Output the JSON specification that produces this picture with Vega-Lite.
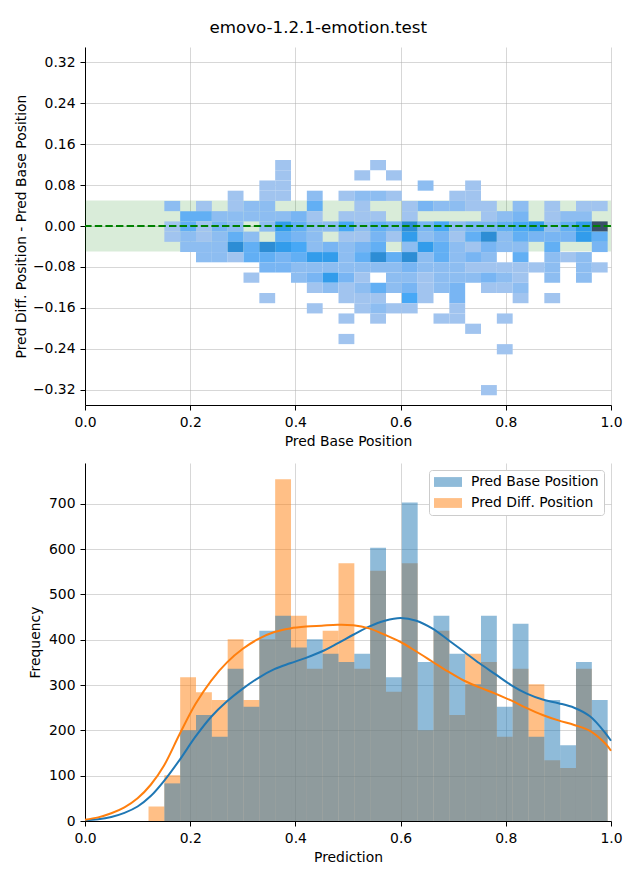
{
  "$schema": "https://vega.github.io/schema/vega-lite/v6.json",
  "padding": {"left": 14, "top": 20, "right": 10, "bottom": 5},
  "bounds": "flush",
  "spacing": 58,
  "title": {"text": "emovo-1.2.1-emotion.test", "fontSize": 16.7, "fontWeight": "normal", "font": "DejaVu Sans", "color": "#000000", "anchor": "middle", "offset": 10},
  "config": {
    "font": "DejaVu Sans",
    "view": {"stroke": null},
    "axis": {
      "labelFont": "DejaVu Sans", "titleFont": "DejaVu Sans",
      "labelFontSize": 13.9, "titleFontSize": 13.9, "titleFontWeight": "normal",
      "labelColor": "#000000", "titleColor": "#000000",
      "domainColor": "#000000", "tickColor": "#000000", "domainWidth": 1, "tickWidth": 1,
      "tickSize": 5, "labelPadding": 5, "titlePadding": 5.5, "labelFlush": false,
      "gridColor": "#b0b0b0", "gridOpacity": 0.5, "gridWidth": 1, "zindex": 1
    },
    "legend": {
      "labelFont": "DejaVu Sans", "labelFontSize": 13.9, "labelColor": "#000000"
    }
  },
  "datasets": {
    "heat": [
      {"x":0.165,"y":0.04,"n":2},{"x":0.165,"y":0,"n":1},{"x":0.165,"y":-0.02,"n":1},
      {"x":0.195,"y":0.02,"n":4},{"x":0.195,"y":0,"n":4},{"x":0.195,"y":-0.02,"n":2},{"x":0.195,"y":-0.04,"n":2},
      {"x":0.225,"y":0.04,"n":1},{"x":0.225,"y":0.02,"n":4},{"x":0.225,"y":0,"n":1},{"x":0.225,"y":-0.02,"n":1},{"x":0.225,"y":-0.04,"n":2},{"x":0.225,"y":-0.06,"n":2},
      {"x":0.255,"y":0.02,"n":2},{"x":0.255,"y":0,"n":3},{"x":0.255,"y":-0.02,"n":2},{"x":0.255,"y":-0.04,"n":2},{"x":0.255,"y":-0.06,"n":2},
      {"x":0.285,"y":0.06,"n":1},{"x":0.285,"y":0.04,"n":1},{"x":0.285,"y":0.02,"n":2},{"x":0.285,"y":0,"n":2},{"x":0.285,"y":-0.02,"n":4},{"x":0.285,"y":-0.04,"n":7},{"x":0.285,"y":-0.06,"n":1},
      {"x":0.316,"y":0.04,"n":2},{"x":0.316,"y":0.02,"n":2},{"x":0.316,"y":-0.02,"n":2},{"x":0.316,"y":-0.04,"n":4},{"x":0.316,"y":-0.06,"n":4},{"x":0.316,"y":-0.10,"n":1},
      {"x":0.346,"y":0.08,"n":1},{"x":0.346,"y":0.06,"n":1},{"x":0.346,"y":0.04,"n":2},{"x":0.346,"y":0.02,"n":2},{"x":0.346,"y":0,"n":2},{"x":0.346,"y":-0.04,"n":7},{"x":0.346,"y":-0.06,"n":4},{"x":0.346,"y":-0.08,"n":3},{"x":0.346,"y":-0.14,"n":1},
      {"x":0.376,"y":0.12,"n":1},{"x":0.376,"y":0.10,"n":1},{"x":0.376,"y":0.08,"n":1},{"x":0.376,"y":0.06,"n":1},{"x":0.376,"y":0.02,"n":2},{"x":0.376,"y":0,"n":6},{"x":0.376,"y":-0.02,"n":4},{"x":0.376,"y":-0.04,"n":6},{"x":0.376,"y":-0.06,"n":3},{"x":0.376,"y":-0.08,"n":3},
      {"x":0.406,"y":0.02,"n":3},{"x":0.406,"y":0,"n":4},{"x":0.406,"y":-0.02,"n":3},{"x":0.406,"y":-0.04,"n":5},{"x":0.406,"y":-0.06,"n":4},{"x":0.406,"y":-0.08,"n":2},{"x":0.406,"y":-0.10,"n":2},
      {"x":0.436,"y":0.06,"n":2},{"x":0.436,"y":0.04,"n":4},{"x":0.436,"y":0.02,"n":1},{"x":0.436,"y":0,"n":2},{"x":0.436,"y":-0.02,"n":2},{"x":0.436,"y":-0.04,"n":2},{"x":0.436,"y":-0.06,"n":6},{"x":0.436,"y":-0.08,"n":2},{"x":0.436,"y":-0.10,"n":3},{"x":0.436,"y":-0.12,"n":1},{"x":0.436,"y":-0.16,"n":1},
      {"x":0.466,"y":0,"n":2},{"x":0.466,"y":-0.04,"n":3},{"x":0.466,"y":-0.06,"n":6},{"x":0.466,"y":-0.08,"n":2},{"x":0.466,"y":-0.10,"n":6},{"x":0.466,"y":-0.12,"n":2},
      {"x":0.496,"y":0.06,"n":1},{"x":0.496,"y":0.02,"n":1},{"x":0.496,"y":0,"n":5},{"x":0.496,"y":-0.02,"n":1},{"x":0.496,"y":-0.04,"n":2},{"x":0.496,"y":-0.06,"n":2},{"x":0.496,"y":-0.08,"n":2},{"x":0.496,"y":-0.10,"n":3},{"x":0.496,"y":-0.12,"n":1},{"x":0.496,"y":-0.14,"n":1},{"x":0.496,"y":-0.18,"n":1},{"x":0.496,"y":-0.22,"n":1},
      {"x":0.526,"y":0.10,"n":1},{"x":0.526,"y":0.06,"n":2},{"x":0.526,"y":0.04,"n":1},{"x":0.526,"y":0.02,"n":1},{"x":0.526,"y":0,"n":2},{"x":0.526,"y":-0.02,"n":1},{"x":0.526,"y":-0.04,"n":3},{"x":0.526,"y":-0.06,"n":4},{"x":0.526,"y":-0.08,"n":2},{"x":0.526,"y":-0.10,"n":1},{"x":0.526,"y":-0.12,"n":2},{"x":0.526,"y":-0.14,"n":1},{"x":0.526,"y":-0.16,"n":1},
      {"x":0.556,"y":0.12,"n":1},{"x":0.556,"y":0.06,"n":2},{"x":0.556,"y":0.02,"n":1},{"x":0.556,"y":0,"n":4},{"x":0.556,"y":-0.02,"n":3},{"x":0.556,"y":-0.04,"n":4},{"x":0.556,"y":-0.06,"n":7},{"x":0.556,"y":-0.08,"n":2},{"x":0.556,"y":-0.12,"n":4},{"x":0.556,"y":-0.14,"n":1},{"x":0.556,"y":-0.16,"n":2},{"x":0.556,"y":-0.18,"n":1},
      {"x":0.586,"y":0.10,"n":1},{"x":0.586,"y":0.06,"n":1},{"x":0.586,"y":0,"n":3},{"x":0.586,"y":-0.02,"n":1},{"x":0.586,"y":-0.06,"n":4},{"x":0.586,"y":-0.08,"n":2},{"x":0.586,"y":-0.10,"n":2},{"x":0.586,"y":-0.12,"n":2},{"x":0.586,"y":-0.16,"n":1},
      {"x":0.617,"y":0.04,"n":1},{"x":0.617,"y":0.02,"n":1},{"x":0.617,"y":0,"n":7},{"x":0.617,"y":-0.02,"n":6},{"x":0.617,"y":-0.04,"n":2},{"x":0.617,"y":-0.06,"n":7},{"x":0.617,"y":-0.08,"n":3},{"x":0.617,"y":-0.10,"n":2},{"x":0.617,"y":-0.12,"n":3},{"x":0.617,"y":-0.14,"n":5},{"x":0.617,"y":-0.16,"n":1},
      {"x":0.647,"y":0.08,"n":2},{"x":0.647,"y":0.04,"n":3},{"x":0.647,"y":0,"n":3},{"x":0.647,"y":-0.02,"n":2},{"x":0.647,"y":-0.04,"n":6},{"x":0.647,"y":-0.06,"n":2},{"x":0.647,"y":-0.08,"n":2},{"x":0.647,"y":-0.10,"n":1},{"x":0.647,"y":-0.12,"n":1},{"x":0.647,"y":-0.14,"n":1},
      {"x":0.677,"y":0.04,"n":2},{"x":0.677,"y":0,"n":5},{"x":0.677,"y":-0.02,"n":3},{"x":0.677,"y":-0.04,"n":4},{"x":0.677,"y":-0.06,"n":4},{"x":0.677,"y":-0.08,"n":2},{"x":0.677,"y":-0.10,"n":2},{"x":0.677,"y":-0.12,"n":2},{"x":0.677,"y":-0.18,"n":1},
      {"x":0.707,"y":0.06,"n":1},{"x":0.707,"y":0.04,"n":2},{"x":0.707,"y":0,"n":2},{"x":0.707,"y":-0.02,"n":1},{"x":0.707,"y":-0.04,"n":2},{"x":0.707,"y":-0.06,"n":2},{"x":0.707,"y":-0.08,"n":2},{"x":0.707,"y":-0.10,"n":2},{"x":0.707,"y":-0.12,"n":3},{"x":0.707,"y":-0.14,"n":3},{"x":0.707,"y":-0.16,"n":1},{"x":0.707,"y":-0.18,"n":1},
      {"x":0.737,"y":0.08,"n":1},{"x":0.737,"y":0.06,"n":1},{"x":0.737,"y":0.04,"n":1},{"x":0.737,"y":0,"n":3},{"x":0.737,"y":-0.02,"n":4},{"x":0.737,"y":-0.04,"n":1},{"x":0.737,"y":-0.06,"n":3},{"x":0.737,"y":-0.08,"n":1},{"x":0.737,"y":-0.10,"n":2},{"x":0.737,"y":-0.20,"n":1},
      {"x":0.767,"y":0.04,"n":1},{"x":0.767,"y":0.02,"n":1},{"x":0.767,"y":0,"n":3},{"x":0.767,"y":-0.02,"n":7},{"x":0.767,"y":-0.04,"n":3},{"x":0.767,"y":-0.06,"n":2},{"x":0.767,"y":-0.08,"n":1},{"x":0.767,"y":-0.10,"n":3},{"x":0.767,"y":-0.12,"n":1},{"x":0.767,"y":-0.32,"n":1},
      {"x":0.797,"y":0.02,"n":2},{"x":0.797,"y":0,"n":4},{"x":0.797,"y":-0.02,"n":2},{"x":0.797,"y":-0.04,"n":2},{"x":0.797,"y":-0.08,"n":1},{"x":0.797,"y":-0.10,"n":2},{"x":0.797,"y":-0.12,"n":1},{"x":0.797,"y":-0.18,"n":1},{"x":0.797,"y":-0.24,"n":1},
      {"x":0.827,"y":0.04,"n":2},{"x":0.827,"y":0.02,"n":3},{"x":0.827,"y":0,"n":5},{"x":0.827,"y":-0.02,"n":4},{"x":0.827,"y":-0.04,"n":2},{"x":0.827,"y":-0.06,"n":4},{"x":0.827,"y":-0.08,"n":1},{"x":0.827,"y":-0.10,"n":1},{"x":0.827,"y":-0.12,"n":2},{"x":0.827,"y":-0.14,"n":1},
      {"x":0.857,"y":0,"n":6},{"x":0.857,"y":-0.02,"n":3},{"x":0.857,"y":-0.08,"n":1},
      {"x":0.887,"y":0.04,"n":1},{"x":0.887,"y":0.02,"n":1},{"x":0.887,"y":0,"n":2},{"x":0.887,"y":-0.02,"n":3},{"x":0.887,"y":-0.04,"n":4},{"x":0.887,"y":-0.06,"n":2},{"x":0.887,"y":-0.08,"n":2},{"x":0.887,"y":-0.10,"n":2},{"x":0.887,"y":-0.14,"n":1},
      {"x":0.918,"y":0.02,"n":2},{"x":0.918,"y":0,"n":4},{"x":0.918,"y":-0.02,"n":3},{"x":0.918,"y":-0.06,"n":1},
      {"x":0.948,"y":0.04,"n":1},{"x":0.948,"y":0.02,"n":2},{"x":0.948,"y":0,"n":6},{"x":0.948,"y":-0.02,"n":6},{"x":0.948,"y":-0.06,"n":2},{"x":0.948,"y":-0.08,"n":2},{"x":0.948,"y":-0.10,"n":2},
      {"x":0.978,"y":0.04,"n":1},{"x":0.978,"y":0,"n":12},{"x":0.978,"y":-0.02,"n":4},{"x":0.978,"y":-0.04,"n":3},{"x":0.978,"y":-0.08,"n":1}
    ],
    "hist": [
      {"x":0.135,"s":"Pred Diff. Position","n":32},
      {"x":0.165,"s":"Pred Diff. Position","n":101},{"x":0.165,"s":"Pred Base Position","n":83},
      {"x":0.195,"s":"Pred Diff. Position","n":317},{"x":0.195,"s":"Pred Base Position","n":200},
      {"x":0.225,"s":"Pred Diff. Position","n":284},{"x":0.225,"s":"Pred Base Position","n":234},
      {"x":0.255,"s":"Pred Diff. Position","n":267},{"x":0.255,"s":"Pred Base Position","n":186},
      {"x":0.285,"s":"Pred Diff. Position","n":401},{"x":0.285,"s":"Pred Base Position","n":336},
      {"x":0.316,"s":"Pred Diff. Position","n":267},{"x":0.316,"s":"Pred Base Position","n":252},
      {"x":0.346,"s":"Pred Diff. Position","n":401},{"x":0.346,"s":"Pred Base Position","n":420},
      {"x":0.376,"s":"Pred Diff. Position","n":754},{"x":0.376,"s":"Pred Base Position","n":453},
      {"x":0.406,"s":"Pred Diff. Position","n":453},{"x":0.406,"s":"Pred Base Position","n":383},
      {"x":0.436,"s":"Pred Diff. Position","n":336},{"x":0.436,"s":"Pred Base Position","n":401},
      {"x":0.466,"s":"Pred Diff. Position","n":420},{"x":0.466,"s":"Pred Base Position","n":369},
      {"x":0.496,"s":"Pred Diff. Position","n":569},{"x":0.496,"s":"Pred Base Position","n":351},
      {"x":0.526,"s":"Pred Diff. Position","n":336},{"x":0.526,"s":"Pred Base Position","n":369},
      {"x":0.556,"s":"Pred Diff. Position","n":552},{"x":0.556,"s":"Pred Base Position","n":603},
      {"x":0.586,"s":"Pred Diff. Position","n":285},{"x":0.586,"s":"Pred Base Position","n":317},
      {"x":0.617,"s":"Pred Diff. Position","n":569},{"x":0.617,"s":"Pred Base Position","n":703},
      {"x":0.647,"s":"Pred Diff. Position","n":200},{"x":0.647,"s":"Pred Base Position","n":351},
      {"x":0.677,"s":"Pred Diff. Position","n":420},{"x":0.677,"s":"Pred Base Position","n":453},
      {"x":0.707,"s":"Pred Diff. Position","n":234},{"x":0.707,"s":"Pred Base Position","n":369},
      {"x":0.737,"s":"Pred Diff. Position","n":369},{"x":0.737,"s":"Pred Base Position","n":302},
      {"x":0.767,"s":"Pred Diff. Position","n":351},{"x":0.767,"s":"Pred Base Position","n":453},
      {"x":0.797,"s":"Pred Diff. Position","n":186},{"x":0.797,"s":"Pred Base Position","n":252},
      {"x":0.827,"s":"Pred Diff. Position","n":336},{"x":0.827,"s":"Pred Base Position","n":435},
      {"x":0.857,"s":"Pred Diff. Position","n":302},{"x":0.857,"s":"Pred Base Position","n":186},
      {"x":0.887,"s":"Pred Diff. Position","n":134},{"x":0.887,"s":"Pred Base Position","n":267},
      {"x":0.918,"s":"Pred Diff. Position","n":117},{"x":0.918,"s":"Pred Base Position","n":167},
      {"x":0.948,"s":"Pred Diff. Position","n":336},{"x":0.948,"s":"Pred Base Position","n":351},
      {"x":0.978,"s":"Pred Diff. Position","n":200},{"x":0.978,"s":"Pred Base Position","n":267}
    ],
    "kde": [
      {"x":0.0,"s":"Pred Base Position","d":2},{"x":0.025,"s":"Pred Base Position","d":4},{"x":0.05,"s":"Pred Base Position","d":9},{"x":0.075,"s":"Pred Base Position","d":18},{"x":0.10,"s":"Pred Base Position","d":32},{"x":0.125,"s":"Pred Base Position","d":55},{"x":0.15,"s":"Pred Base Position","d":88},{"x":0.18,"s":"Pred Base Position","d":135},{"x":0.21,"s":"Pred Base Position","d":186},{"x":0.24,"s":"Pred Base Position","d":230},{"x":0.27,"s":"Pred Base Position","d":264},{"x":0.30,"s":"Pred Base Position","d":292},{"x":0.33,"s":"Pred Base Position","d":316},{"x":0.36,"s":"Pred Base Position","d":335},{"x":0.39,"s":"Pred Base Position","d":348},{"x":0.42,"s":"Pred Base Position","d":360},{"x":0.45,"s":"Pred Base Position","d":374},{"x":0.48,"s":"Pred Base Position","d":392},{"x":0.51,"s":"Pred Base Position","d":411},{"x":0.54,"s":"Pred Base Position","d":429},{"x":0.57,"s":"Pred Base Position","d":442},{"x":0.60,"s":"Pred Base Position","d":448},{"x":0.63,"s":"Pred Base Position","d":442},{"x":0.66,"s":"Pred Base Position","d":425},{"x":0.69,"s":"Pred Base Position","d":400},{"x":0.72,"s":"Pred Base Position","d":374},{"x":0.75,"s":"Pred Base Position","d":348},{"x":0.78,"s":"Pred Base Position","d":324},{"x":0.81,"s":"Pred Base Position","d":300},{"x":0.84,"s":"Pred Base Position","d":281},{"x":0.87,"s":"Pred Base Position","d":268},{"x":0.90,"s":"Pred Base Position","d":260},{"x":0.93,"s":"Pred Base Position","d":250},{"x":0.96,"s":"Pred Base Position","d":231},{"x":0.99,"s":"Pred Base Position","d":193},{"x":1.0,"s":"Pred Base Position","d":177},
      {"x":0.0,"s":"Pred Diff. Position","d":3},{"x":0.025,"s":"Pred Diff. Position","d":8},{"x":0.05,"s":"Pred Diff. Position","d":17},{"x":0.075,"s":"Pred Diff. Position","d":30},{"x":0.10,"s":"Pred Diff. Position","d":50},{"x":0.125,"s":"Pred Diff. Position","d":80},{"x":0.15,"s":"Pred Diff. Position","d":122},{"x":0.18,"s":"Pred Diff. Position","d":192},{"x":0.21,"s":"Pred Diff. Position","d":258},{"x":0.24,"s":"Pred Diff. Position","d":310},{"x":0.27,"s":"Pred Diff. Position","d":350},{"x":0.30,"s":"Pred Diff. Position","d":380},{"x":0.33,"s":"Pred Diff. Position","d":402},{"x":0.36,"s":"Pred Diff. Position","d":417},{"x":0.39,"s":"Pred Diff. Position","d":425},{"x":0.42,"s":"Pred Diff. Position","d":429},{"x":0.45,"s":"Pred Diff. Position","d":431},{"x":0.48,"s":"Pred Diff. Position","d":433},{"x":0.51,"s":"Pred Diff. Position","d":432},{"x":0.54,"s":"Pred Diff. Position","d":425},{"x":0.57,"s":"Pred Diff. Position","d":411},{"x":0.60,"s":"Pred Diff. Position","d":395},{"x":0.63,"s":"Pred Diff. Position","d":374},{"x":0.66,"s":"Pred Diff. Position","d":352},{"x":0.69,"s":"Pred Diff. Position","d":330},{"x":0.72,"s":"Pred Diff. Position","d":310},{"x":0.75,"s":"Pred Diff. Position","d":295},{"x":0.78,"s":"Pred Diff. Position","d":281},{"x":0.81,"s":"Pred Diff. Position","d":266},{"x":0.84,"s":"Pred Diff. Position","d":249},{"x":0.87,"s":"Pred Diff. Position","d":234},{"x":0.90,"s":"Pred Diff. Position","d":222},{"x":0.93,"s":"Pred Diff. Position","d":212},{"x":0.96,"s":"Pred Diff. Position","d":199},{"x":0.99,"s":"Pred Diff. Position","d":170},{"x":1.0,"s":"Pred Diff. Position","d":155}
    ]
  },
  "vconcat": [
    {
      "width": 526,
      "height": 358,
      "layer": [
        {
          "data": {"values": [{"x0": 0, "x1": 1, "y0": -0.05, "y1": 0.05}]},
          "mark": {"type": "rect", "color": "#008000", "opacity": 0.15},
          "encoding": {
            "x": {"field": "x0", "type": "quantitative", "title": "Pred Base Position",
                  "scale": {"domain": [0, 1], "nice": false, "zero": false},
                  "axis": {"values": [0, 0.2, 0.4, 0.6, 0.8, 1.0], "format": ".1f", "grid": true}},
            "x2": {"field": "x1"},
            "y": {"field": "y0", "type": "quantitative", "title": "Pred Diff. Position - Pred Base Position",
                  "scale": {"domain": [-0.35, 0.35], "nice": false, "zero": false},
                  "axis": {"values": [-0.32, -0.24, -0.16, -0.08, 0, 0.08, 0.16, 0.24, 0.32], "format": ".2f", "grid": true, "titlePadding": 4}},
            "y2": {"field": "y1"}
          }
        },
        {
          "data": {"name": "heat"},
          "mark": {"type": "rect"},
          "encoding": {
            "x": {"field": "x", "type": "quantitative", "title": "Pred Base Position",
                  "bin": {"extent": [0.1198, 0.9927], "step": 0.0301, "nice": false}},
            "y": {"field": "y", "type": "quantitative", "title": "Pred Diff. Position - Pred Base Position",
                  "bin": {"extent": [-0.33, 0.13], "step": 0.02, "nice": false}},
            "color": {"aggregate": "sum", "field": "n", "type": "quantitative", "legend": null,
                      "scale": {"domain": [1, 12], "range": ["#a1c4ef", "#8bbcf1", "#74b4f3", "#5badf5", "#38a5f6", "#2d94e2", "#2e84c6", "#3274aa", "#35658f", "#385a7a", "#3a5068"]}}
          }
        },
        {
          "data": {"values": [{"yz": 0}]},
          "mark": {"type": "rule", "color": "#008000", "strokeWidth": 2, "strokeDash": [7.4, 3.2]},
          "encoding": {
            "y": {"field": "yz", "type": "quantitative", "title": "Pred Diff. Position - Pred Base Position"}
          }
        }
      ]
    },
    {
      "width": 526,
      "height": 358,
      "layer": [
        {
          "data": {"name": "hist"},
          "transform": [{"filter": "datum.s === 'Pred Diff. Position'"}],
          "mark": {"type": "bar", "opacity": 0.5, "binSpacing": 0},
          "encoding": {
            "x": {"field": "x", "type": "quantitative", "title": "Prediction",
                  "bin": {"extent": [0.1198, 0.9927], "step": 0.0301, "nice": false},
                  "scale": {"domain": [0, 1], "nice": false, "zero": false},
                  "axis": {"values": [0, 0.2, 0.4, 0.6, 0.8, 1.0], "format": ".1f", "grid": true}},
            "y": {"aggregate": "sum", "field": "n", "type": "quantitative", "title": "Frequency", "stack": null,
                  "scale": {"domain": [0, 790], "nice": false},
                  "axis": {"values": [0, 100, 200, 300, 400, 500, 600, 700], "grid": true}},
            "color": {"field": "s", "type": "nominal",
                      "scale": {"domain": ["Pred Base Position", "Pred Diff. Position"], "range": ["#1f77b4", "#ff7f0e"]},
                      "legend": {"title": null, "orient": "top-right", "offset": 7, "fillColor": "#ffffff", "strokeColor": "#cccccc", "cornerRadius": 3, "padding": 5, "rowPadding": 7,
                                 "symbolType": "M-1,-0.7L3,-0.7L3,0.7L-1,0.7Z", "symbolSize": 196, "symbolOpacity": 0.5, "symbolStrokeWidth": 0, "labelOffset": 23, "labelFontSize": 13.9}}
          }
        },
        {
          "data": {"name": "hist"},
          "transform": [{"filter": "datum.s === 'Pred Base Position'"}],
          "mark": {"type": "bar", "opacity": 0.5, "binSpacing": 0},
          "encoding": {
            "x": {"field": "x", "type": "quantitative", "title": "Prediction",
                  "bin": {"extent": [0.1198, 0.9927], "step": 0.0301, "nice": false}},
            "y": {"aggregate": "sum", "field": "n", "type": "quantitative", "title": "Frequency", "stack": null},
            "color": {"field": "s", "type": "nominal"}
          }
        },
        {
          "data": {"name": "kde"},
          "mark": {"type": "line", "strokeWidth": 2, "interpolate": "catmull-rom"},
          "encoding": {
            "x": {"field": "x", "type": "quantitative", "title": "Prediction"},
            "y": {"field": "d", "type": "quantitative", "title": "Frequency"},
            "stroke": {"field": "s", "type": "nominal", "legend": null,
                       "scale": {"domain": ["Pred Base Position", "Pred Diff. Position"], "range": ["#1f77b4", "#ff7f0e"]}}
          }
        }
      ]
    }
  ]
}
